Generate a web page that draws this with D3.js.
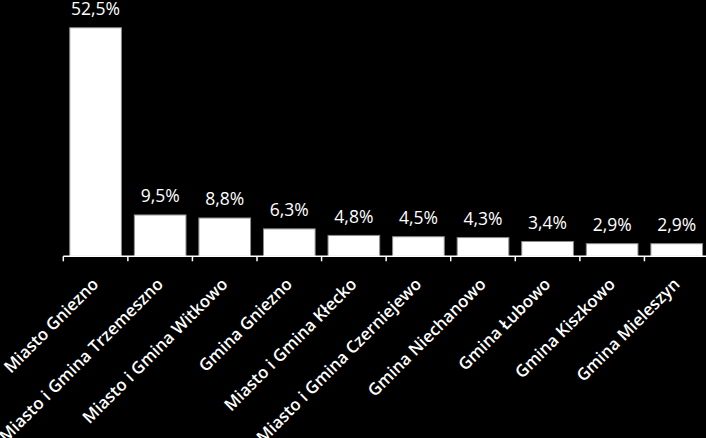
<!DOCTYPE html>
<html><head><meta charset="utf-8">
<script src="https://cdn.jsdelivr.net/npm/d3@7"></script>
<style>
html,body{margin:0;padding:0;background:#000;}
svg{display:block;}
</style></head>
<body>
<svg id="c" width="706" height="438"></svg>
<script>
const categories = ["Miasto Gniezno","Miasto i Gmina Trzemeszno","Miasto i Gmina Witkowo","Gmina Gniezno","Miasto i Gmina Kłecko","Miasto i Gmina Czerniejewo","Gmina Niechanowo","Gmina Łubowo","Gmina Kiszkowo","Gmina Mieleszyn"];
const values = [52.5, 9.5, 8.8, 6.3, 4.8, 4.5, 4.3, 3.4, 2.9, 2.9];
const valueLabels = ["52,5%","9,5%","8,8%","6,3%","4,8%","4,5%","4,3%","3,4%","2,9%","2,9%"];

const svg = d3.select("#c");
svg.append("rect").attr("width",706).attr("height",438).attr("fill","#000");
const x0 = 63.3, x1 = 709, yBase = 256.3;
const x = d3.scaleBand().domain(categories).range([x0, x1]).paddingInner(0.2).paddingOuter(0.1);
const y = d3.scaleLinear().domain([0, 60]).range([yBase, yBase - 261.2]);

svg.selectAll("rect.bar").data(values).enter().append("rect")
  .attr("class","bar")
  .attr("x",(d,i)=>x(categories[i]))
  .attr("width",x.bandwidth())
  .attr("y",d=>y(d))
  .attr("height",d=>y(0)-y(d))
  .attr("fill","#fff").attr("stroke","#8c8c8c").attr("stroke-width",1);

svg.selectAll("text.val").data(values).enter().append("text")
  .attr("class","val")
  .attr("x",(d,i)=>x(categories[i])+x.bandwidth()/2)
  .attr("y",d=>y(d)-12.5)
  .attr("text-anchor","middle")
  .attr("fill","#fff")
  .attr("font-family","Open Sans")
  .attr("font-weight",500)
  .attr("font-size",17.5)
  .text((d,i)=>valueLabels[i]);

// axis
const g = svg.append("g").attr("transform",`translate(0,${yBase})`);
g.append("line").attr("x1",x0).attr("x2",706).attr("y1",0).attr("y2",0).attr("stroke","#fff").attr("stroke-width",1.5);
const step = x.step();
g.selectAll("line.tick").data(d3.range(categories.length+1)).enter().append("line")
  .attr("x1",i=>x0+i*step).attr("x2",i=>x0+i*step).attr("y1",0).attr("y2",5)
  .attr("stroke","#fff").attr("stroke-width",1.5);

svg.selectAll("text.cat").data(categories).enter().append("text")
  .attr("class","cat")
  .attr("transform",d=>`translate(${x(d)+x.bandwidth()/2+4},${yBase+29}) rotate(-45)`)
  .attr("text-anchor","end")
  .attr("fill","#fff")
  .attr("font-family","Open Sans")
  .attr("font-weight",600)
  .attr("font-size",16.8)
  .text(d=>d);
</script>
</body></html>
